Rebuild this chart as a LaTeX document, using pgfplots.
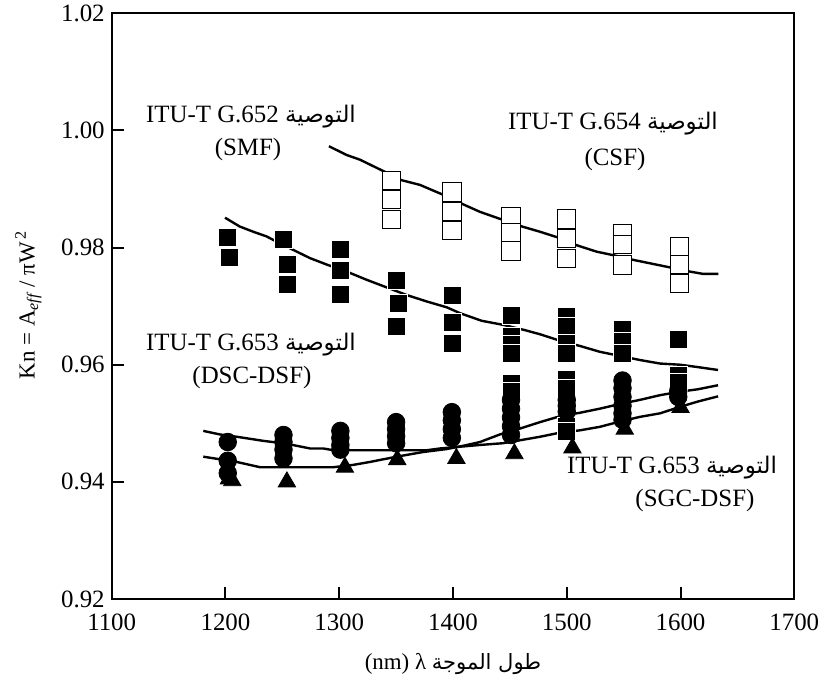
\documentclass[border=0pt]{standalone}
\usepackage{fontspec}
\setmainfont{Liberation Serif}
\newfontfamily\arabicfont[Script=Arabic,Scale=0.92]{DejaVu Sans}
\usepackage{pgfplots}
\usepackage{pgfplotstable}
\pgfplotsset{compat=1.18}
\TeXXeTstate=1

% CSF (G.654): measured points
\pgfplotstableread{
x y
1346 0.9915
1346 0.9882
1346 0.9848
1399 0.9895
1399 0.9862
1399 0.9829
1451 0.9852
1451 0.9826
1451 0.9794
1500 0.9849
1500 0.9816
1500 0.9781
1549 0.9824
1549 0.9805
1549 0.9770
1599 0.9802
1599 0.9771
1599 0.9739
}\csfpts

% SMF (G.652): measured points
\pgfplotstableread{
x y
1202 0.9817
1203 0.9783
1251 0.9814
1254 0.9771
1254 0.9737
1301 0.9797
1301 0.9761
1301 0.9720
1350 0.9744
1352 0.9705
1350 0.9666
1399 0.9718
1399 0.9673
1399 0.9637
1451 0.9684
1451 0.9649
1451 0.9634
1451 0.9619
1451 0.9568
1451 0.9555
1500 0.9683
1500 0.9665
1500 0.9637
1500 0.9620
1500 0.9575
1500 0.9560
1500 0.9495
1500 0.9487
1549 0.9661
1549 0.9640
1549 0.9619
1598 0.9643
1598 0.9582
1598 0.9570
}\smfpts

% DSC-DSF: measured points
\pgfplotstableread{
x y
1202 0.9468
1202 0.9436
1202 0.9415
1251 0.9480
1251 0.9468
1251 0.9455
1251 0.9440
1301 0.9487
1301 0.9475
1301 0.9463
1301 0.9455
1350 0.9502
1350 0.9490
1350 0.9478
1350 0.9466
1399 0.9519
1399 0.9505
1399 0.9490
1399 0.9475
1451 0.9540
1451 0.9525
1451 0.9510
1451 0.9495
1451 0.9480
1500 0.9540
1500 0.9530
1500 0.9520
1549 0.9573
1549 0.9560
1549 0.9545
1549 0.9530
1549 0.9517
1549 0.9506
1598 0.9555
1598 0.9545
}\dscpts

% SGC-DSF: measured points
\pgfplotstableread{
x y
1203 0.9405
1206 0.9402
1254 0.9400
1305 0.9425
1351 0.9438
1403 0.9440
1454 0.9448
1505 0.9458
1551 0.9490
1600 0.9527
}\sgcpts

% calculated curves
\pgfplotstableread{
x y
1291.0 0.9973
1306.6 0.9958
1318.3 0.9950
1337.3 0.9932
1354.9 0.9915
1371.0 0.9907
1391.5 0.9890
1407.6 0.9875
1423.7 0.9861
1442.8 0.9848
1458.9 0.9837
1476.5 0.9827
1492.6 0.9817
1508.7 0.9804
1526.3 0.9793
1540.9 0.9787
1558.5 0.9779
1576.0 0.9772
1593.6 0.9765
1608.3 0.9759
1620.0 0.9755
1633.2 0.9755
}\csfline

\pgfplotstableread{
x y
1199.6 0.9851
1212.5 0.9836
1224.5 0.9827
1236.2 0.9819
1247.9 0.9807
1259.6 0.9796
1274.3 0.9782
1289.0 0.9771
1306.6 0.9759
1324.1 0.9745
1341.7 0.9732
1359.3 0.9719
1376.9 0.9708
1394.5 0.9698
1406.2 0.9688
1425.2 0.9675
1444.2 0.9668
1463.3 0.9659
1476.5 0.9652
1494.0 0.9641
1511.6 0.9632
1529.2 0.9622
1546.8 0.9615
1564.4 0.9608
1582.0 0.9602
1599.5 0.9600
1615.0 0.9596
1633.0 0.9591
}\smfline

\pgfplotstableread{
x y
1180.5 0.9487
1195.0 0.9481
1209.9 0.9477
1233.3 0.9470
1253.8 0.9465
1274.3 0.9457
1286.0 0.9457
1294.8 0.9454
1306.6 0.9454
1340.0 0.9454
1377.0 0.9454
1388.6 0.9457
1423.7 0.9463
1444.0 0.9466
1458.9 0.9471
1476.5 0.9477
1494.0 0.9484
1511.6 0.9488
1529.2 0.9494
1546.8 0.9503
1564.4 0.9511
1582.0 0.9517
1599.5 0.9528
1615.0 0.9537
1633.0 0.9546
}\dscline

\pgfplotstableread{
x y
1180.5 0.9443
1209.9 0.9434
1230.4 0.9425
1253.8 0.9425
1294.8 0.9425
1312.4 0.9429
1327.0 0.9434
1350.5 0.9443
1373.9 0.9451
1394.5 0.9456
1410.0 0.9462
1423.7 0.9468
1441.3 0.9481
1458.9 0.9491
1476.5 0.9502
1494.0 0.9512
1511.6 0.9518
1529.2 0.9525
1546.8 0.9533
1564.4 0.9540
1582.0 0.9548
1599.5 0.9554
1615.0 0.9558
1633.0 0.9565
}\sgcline

\begin{document}
\begin{tikzpicture}[font=\fontsize{11.5}{13.5}\selectfont]
\begin{axis}[
  name=ax, at={(0,0)}, anchor=south west,
  scale only axis, width=341.3bp, height=292.85bp,
  xmin=1100, xmax=1700, ymin=0.92, ymax=1.02,
  xtick={1100,1200,1300,1400,1500,1600,1700},
  ytick={0.92,0.94,0.96,0.98,1.00,1.02},
  xtick pos=left, ytick pos=left, tick align=inside,
  major tick length=6bp,
  every tick/.style={black, line width=1bp},
  axis line style={line width=1bp},
  /pgf/number format/assume math mode=true,
  ticklabel style={font=\fontsize{12.5}{14}\selectfont},
  xticklabel style={/pgf/number format/set thousands separator={}, yshift=-4bp},
  yticklabel style={/pgf/number format/.cd, fixed, fixed zerofill, precision=2},
  xlabel={(nm) λ {\arabicfont\beginR طول الموجة\endR}},
  xlabel style={at={(axis description cs:0.5,-0.111)}, anchor=center},
  ylabel={Kn = A\textsubscript{\itshape eff} / πW\textsuperscript{\,2}},
  ylabel style={at={(axis description cs:-0.122,0.502)}, anchor=center},
  clip=false,
]
% measured points
\addplot[only marks, mark=square*, mark size=4.6bp,
  mark options={fill=white, draw=black, line width=0.5bp}] table {\csfpts};
\addplot[only marks, mark=square*, mark size=4.5bp,
  mark options={fill=black, draw=white, line width=0.35bp}] table {\smfpts};
\addplot[only marks, mark=*, mark size=4.4bp,
  mark options={fill=black, draw=black}] table {\dscpts};
\addplot[only marks, mark=triangle*, mark size=5bp,
  mark options={fill=black, draw=black}] table {\sgcpts};
% calculated curves
\addplot[black, line width=1.2bp, no marks] table {\csfline};
\addplot[black, line width=1.2bp, no marks] table {\smfline};
\addplot[black, line width=1.2bp, no marks] table {\dscline};
\addplot[black, line width=1.2bp, no marks] table {\sgcline};
% curve labels
\begin{scope}[font=\fontsize{12.5}{14}\selectfont]
\node at (axis cs:1222.4,1.0023) {ITU-T G.652 {\arabicfont\beginR التوصية\endR}};
\node at (axis cs:1219.8,0.9967) {(SMF)};
\node at (axis cs:1540.6,1.0011) {ITU-T G.654 {\arabicfont\beginR التوصية\endR}};
\node at (axis cs:1542.4,0.9950) {(CSF)};
\node at (axis cs:1222.4,0.9634) {ITU-T G.653 {\arabicfont\beginR التوصية\endR}};
\node at (axis cs:1223.3,0.9579) {(DSC-DSF)};
\node at (axis cs:1592.5,0.9424) {ITU-T G.653 {\arabicfont\beginR التوصية\endR}};
\node at (axis cs:1612.7,0.9369) {(SGC-DSF)};
\end{scope}
\end{axis}
\pgfresetboundingbox
\path (ax.south west) ++(-55.85bp,-45bp) rectangle ++(409bp,344.5bp);
\end{tikzpicture}
\end{document}
